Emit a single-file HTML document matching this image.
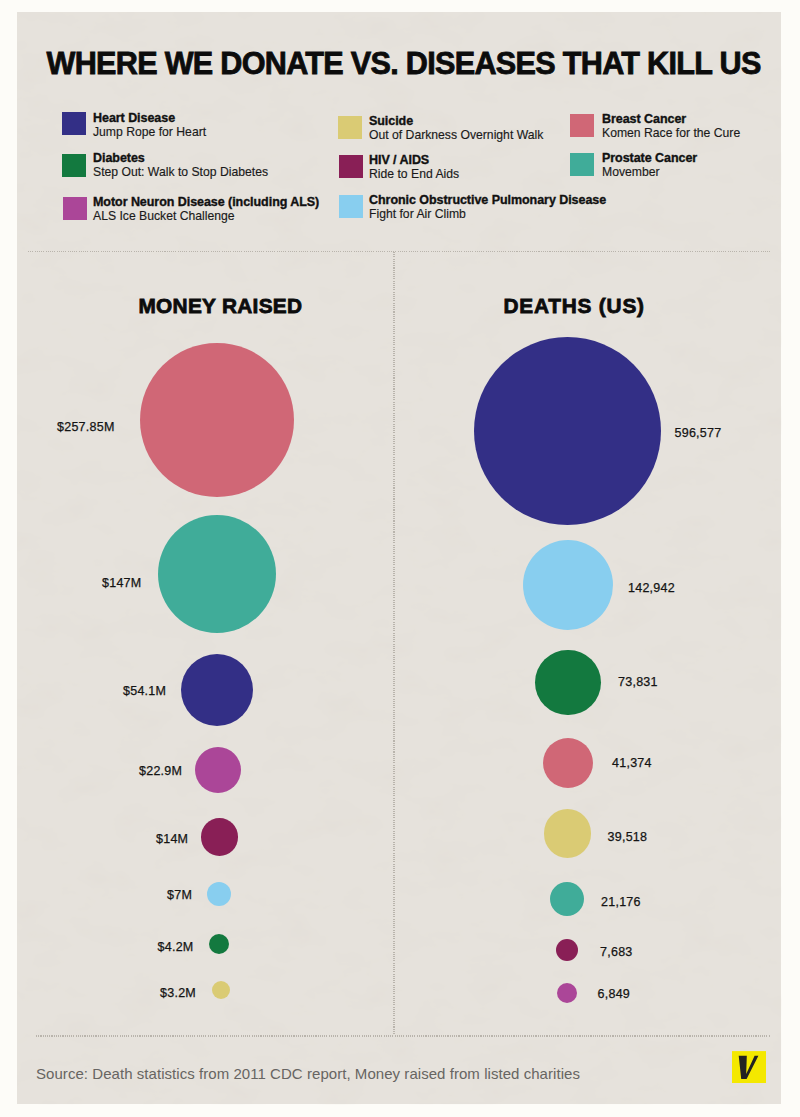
<!DOCTYPE html>
<html><head><meta charset="utf-8">
<style>
html,body{margin:0;padding:0;}
body{width:800px;height:1117px;position:relative;overflow:hidden;background:#fdfcf8;font-family:"Liberation Sans",sans-serif;color:#111;}
.panel{position:absolute;left:16.5px;top:11.8px;width:764.8px;height:1092.7px;background:#e6e2dc;}
.abs{position:absolute;white-space:nowrap;}
.title{left:46.5px;top:42.5px;font-size:30.6px;font-weight:bold;line-height:40px;color:#0c0c0c;-webkit-text-stroke:0.8px #0c0c0c;letter-spacing:-0.7px;}
.sq{position:absolute;width:24px;height:23px;}
.lg{position:absolute;white-space:nowrap;line-height:14px;}
.lg b{display:block;font-size:12.5px;font-weight:bold;color:#111;-webkit-text-stroke:0.35px #111;letter-spacing:-0.05px;}
.lg span{display:block;font-size:12.2px;color:#1a1a1a;-webkit-text-stroke:0.15px #1a1a1a;}
.hline{position:absolute;height:1.4px;background:repeating-linear-gradient(90deg,#b9b4ac 0 1.1px,transparent 1.1px 2.2px);}
.vline{position:absolute;width:1.4px;background:repeating-linear-gradient(180deg,#b9b4ac 0 1.1px,transparent 1.1px 2.2px);}
.head{position:absolute;font-size:20.8px;font-weight:bold;line-height:24px;white-space:nowrap;color:#0c0c0c;-webkit-text-stroke:0.8px #0c0c0c;letter-spacing:-0.1px;}
.c{position:absolute;border-radius:50%;}
.lab{position:absolute;font-size:12.5px;line-height:14px;white-space:nowrap;color:#141414;-webkit-text-stroke:0.25px #141414;letter-spacing:0.25px;}
.src{left:36px;top:1064px;font-size:15px;line-height:20px;color:#676562;letter-spacing:0.05px;}
</style></head><body>
<div class="panel"><svg width="765" height="1093" style="position:absolute;left:0;top:0"><filter id="tx" x="0" y="0" width="100%" height="100%"><feTurbulence type="fractalNoise" baseFrequency="0.02 0.035" numOctaves="4" seed="7"/><feColorMatrix type="matrix" values="0 0 0 0 0.55  0 0 0 0 0.5  0 0 0 0 0.42  1.2 0 0 0 -0.55"/><feComponentTransfer><feFuncA type="linear" slope="0.12" intercept="0"/></feComponentTransfer></filter><rect width="765" height="1093" filter="url(#tx)"/></svg></div>
<div class="abs title">WHERE WE DONATE VS. DISEASES THAT KILL US</div>

<!-- legend col 1 -->
<div class="sq" style="left:62px;top:112px;background:#332f86"></div>
<div class="lg" style="left:93px;top:111px"><b>Heart Disease</b><span>Jump Rope for Heart</span></div>
<div class="sq" style="left:62px;top:154px;background:#13793f"></div>
<div class="lg" style="left:93px;top:151px"><b>Diabetes</b><span>Step Out: Walk to Stop Diabetes</span></div>
<div class="sq" style="left:63px;top:197px;background:#ab4698"></div>
<div class="lg" style="left:93px;top:195px"><b>Motor Neuron Disease (including ALS)</b><span>ALS Ice Bucket Challenge</span></div>

<!-- legend col 2 -->
<div class="sq" style="left:338px;top:116px;background:#dacb74"></div>
<div class="lg" style="left:369px;top:114px"><b>Suicide</b><span>Out of Darkness Overnight Walk</span></div>
<div class="sq" style="left:339px;top:155px;background:#891f56"></div>
<div class="lg" style="left:369px;top:153px"><b>HIV / AIDS</b><span>Ride to End Aids</span></div>
<div class="sq" style="left:339px;top:195px;background:#88ceef"></div>
<div class="lg" style="left:369px;top:193px"><b>Chronic Obstructive Pulmonary Disease</b><span>Fight for Air Climb</span></div>

<!-- legend col 3 -->
<div class="sq" style="left:570px;top:114px;background:#d06776"></div>
<div class="lg" style="left:602px;top:112px"><b>Breast Cancer</b><span>Komen Race for the Cure</span></div>
<div class="sq" style="left:570px;top:153px;background:#40ac99"></div>
<div class="lg" style="left:602px;top:151px"><b>Prostate Cancer</b><span>Movember</span></div>

<!-- lines -->
<div class="hline" style="left:28px;top:250.6px;width:742px"></div>
<div class="vline" style="left:393.2px;top:252px;height:783px"></div>
<div class="hline" style="left:36px;top:1035.2px;width:734px"></div>

<div class="head" style="left:138.5px;top:294px;letter-spacing:0.3px">MONEY RAISED</div>
<div class="head" style="left:503.5px;top:294px;letter-spacing:0.8px">DEATHS (US)</div>

<!-- money circles -->
<div class="c" style="left:140px;top:343px;width:154px;height:154px;background:#d06776"></div>
<div class="c" style="left:158px;top:515px;width:118px;height:118px;background:#40ac99"></div>
<div class="c" style="left:181px;top:654px;width:72px;height:72px;background:#332f86"></div>
<div class="c" style="left:195px;top:747px;width:46.4px;height:46.2px;background:#ab4698"></div>
<div class="c" style="left:200.6px;top:818px;width:37px;height:37.6px;background:#891f56"></div>
<div class="c" style="left:207px;top:882px;width:24px;height:24px;background:#88ceef"></div>
<div class="c" style="left:209px;top:934px;width:20px;height:20px;background:#13793f"></div>
<div class="c" style="left:212px;top:981px;width:18px;height:18px;background:#dacb74"></div>

<div class="lab" style="left:57px;top:420px">$257.85M</div>
<div class="lab" style="left:102px;top:575.5px">$147M</div>
<div class="lab" style="left:123px;top:683.5px">$54.1M</div>
<div class="lab" style="left:139px;top:764px">$22.9M</div>
<div class="lab" style="left:156px;top:831.5px">$14M</div>
<div class="lab" style="left:167px;top:888px">$7M</div>
<div class="lab" style="left:157.5px;top:940px">$4.2M</div>
<div class="lab" style="left:160px;top:985.5px">$3.2M</div>

<!-- deaths circles -->
<div class="c" style="left:474px;top:337px;width:187px;height:188px;background:#332f86"></div>
<div class="c" style="left:522.5px;top:539.7px;width:90.5px;height:90.3px;background:#88ceef"></div>
<div class="c" style="left:535px;top:649.5px;width:65.5px;height:65.5px;background:#13793f"></div>
<div class="c" style="left:542.6px;top:737.6px;width:50.4px;height:50.4px;background:#d06776"></div>
<div class="c" style="left:543.6px;top:809.4px;width:47.8px;height:48.6px;background:#dacb74"></div>
<div class="c" style="left:549.5px;top:881.5px;width:34.5px;height:34.5px;background:#40ac99"></div>
<div class="c" style="left:556px;top:939px;width:22px;height:22px;background:#891f56"></div>
<div class="c" style="left:557px;top:983px;width:20px;height:20px;background:#ab4698"></div>

<div class="lab" style="left:674.5px;top:425.5px">596,577</div>
<div class="lab" style="left:628px;top:581px">142,942</div>
<div class="lab" style="left:618px;top:675px">73,831</div>
<div class="lab" style="left:612px;top:756px">41,374</div>
<div class="lab" style="left:607.5px;top:829.5px">39,518</div>
<div class="lab" style="left:601px;top:895px">21,176</div>
<div class="lab" style="left:600px;top:945px">7,683</div>
<div class="lab" style="left:597.5px;top:986.5px">6,849</div>

<div class="abs src">Source: Death statistics from 2011 CDC report, Money raised from listed charities</div>

<svg style="position:absolute;left:731.8px;top:1051.3px" width="34" height="32.2" viewBox="0 0 34 32">
<rect width="34" height="32" fill="#f4e800"/>
<path d="M6.7,4.7 H14.8 L14.2,23 L22.6,4.7 H26.4 L14.6,27.8 H9.2 Z" fill="#222"/>
</svg>
</body></html>
